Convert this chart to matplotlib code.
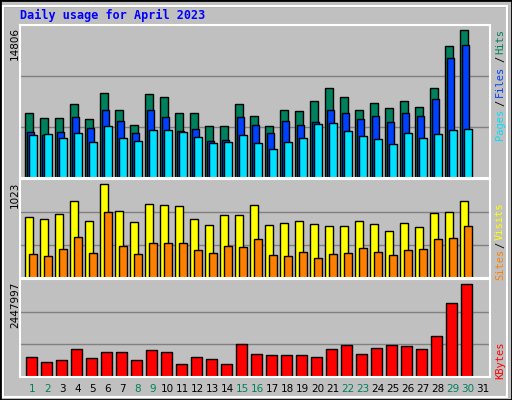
import matplotlib
matplotlib.use("Agg")
import matplotlib.pyplot as plt
from matplotlib.patches import Rectangle

days = list(range(1, 32))
hits = [6545, 6042, 6042, 7452, 5941, 8459, 6847, 5337, 8358, 8056, 6545, 6545, 5236, 5236, 7452,
        6243, 5236, 6847, 6747, 7754, 8962, 8056, 6847, 7553, 7049, 7754, 7150, 8962, 13192, 14806, 0]
files = [4632, 4330, 4632, 6143, 5035, 6848, 5740, 4532, 6848, 6143, 4733, 4934, 3726, 3827, 6143,
         5337, 4532, 5740, 5337, 5639, 6848, 6546, 5941, 6243, 5639, 6546, 6243, 7855, 11983, 13292, 0]
pages = [4330, 4431, 4028, 4532, 3625, 5236, 4028, 3726, 4834, 4834, 4632, 4129, 3524, 3625, 4330,
         3524, 2920, 3625, 4028, 5438, 5539, 4733, 4229, 3927, 3424, 4532, 4028, 4431, 4834, 4934, 0]
visits = [660, 638, 693, 836, 616, 1023, 726, 605, 803, 792, 781, 638, 572, 682, 682,
          792, 572, 594, 616, 583, 561, 561, 616, 583, 517, 594, 550, 704, 715, 836, 0]
sites = [264, 242, 319, 451, 275, 715, 352, 264, 385, 385, 385, 308, 275, 352, 341,
         429, 253, 242, 286, 220, 264, 275, 330, 286, 253, 308, 319, 429, 440, 561, 0]
kbytes = [532173, 399130, 452347, 745043, 505565, 665217, 665217, 452347, 718434, 665217, 345912,
          532173, 478956, 345912, 878086, 611999, 585390, 585390, 585390, 532173, 745043, 851477,
          611999, 771651, 851477, 824868, 745043, 1091038, 1942520, 2447997, 0]
weekend = [1, 2, 8, 9, 15, 16, 22, 23, 29, 30]

W, H = 512, 400
fig = plt.figure(figsize=(W / 100, H / 100), dpi=100)
fig.patch.set_facecolor("#c0c0c0")

def fx(x):
    return x / W

def fy(y):
    return 1 - y / H

# outer bevel
fig.add_artist(Rectangle((0, 0), 1, 1, transform=fig.transFigure, fill=False, ec="black", lw=2))
fig.add_artist(Rectangle((fx(3), fy(397)), fx(504), 391 / H, transform=fig.transFigure,
                         fill=False, ec="white", lw=1.5))
fig.add_artist(Rectangle((fx(3), fy(397)), fx(504), 391 / H, transform=fig.transFigure,
                         fill=False, ec="#808080", lw=1, zorder=0))

def panel(top, bottom, ymax):
    ax = fig.add_axes([fx(20), fy(bottom), fx(470), (bottom - top) / H])
    ax.set_facecolor("#c0c0c0")
    ax.set_xlim(-1 / 3, 31)
    ax.set_ylim(0, ymax)
    for v in (ymax / 3, 2 * ymax / 3):
        ax.axhline(v, color="#808080", lw=1, zorder=0)
    ax.set_xticks([])
    ax.set_yticks([])
    for s in ax.spines.values():
        s.set_color("white")
        s.set_linewidth(1.5)
    return ax

x0 = [d - 1 for d in days]
kw = dict(align="edge", edgecolor="black", linewidth=1)

ax1 = panel(25, 178, 14806 * 152 / 147)
ax1.bar([x + 0.0 for x in x0], hits, 0.5, color="#00805c", **kw)
ax1.bar([x + 0.13 for x in x0], files, 0.5, color="#0040ff", **kw)
ax1.bar([x + 0.27 for x in x0], pages, 0.5, color="#00e0ff", **kw)

ax2 = panel(179, 278, 1023 * 98 / 93)
ax2.bar([x + 0.0 for x in x0], visits, 0.55, color="#ffff00", **kw)
ax2.bar([x + 0.27 for x in x0], sites, 0.5, color="#ff8000", **kw)

ax3 = panel(279, 377, 2447997 * 97 / 92)
ax3.bar([x + 0.07 for x in x0], kbytes, 0.7, color="#ff0000", **kw)

mono = "DejaVu Sans Mono"
fig.text(fx(20), fy(15), "Daily usage for April 2023", color="#0000ff", family=mono,
         weight="bold", fontsize=8.5, va="center")

for top, lab in ((25, "14806"), (180, "1023"), (280, "2447997")):
    fig.text(fx(15), fy(top + 2), lab, rotation=90, ha="center", va="top", fontsize=7.5)

def side(y, s, c):
    fig.text(fx(500), fy(y), s, rotation=90, ha="center", va="center", color=c,
             family=mono, fontsize=7.5)

side(124, "Pages", "#00e0ff")
side(103, "/", "black")
side(81, "Files", "#0040ff")
side(59, "/", "black")
side(41, "Hits", "#00805c")
side(264, "Sites", "#ff8000")
side(245, "/", "black")
side(221, "Visits", "#ffff00")
side(360, "KBytes", "#ff0000")

for d in days:
    fig.text(fx(25 + 15 * (d - 1) + 7.5), fy(389), str(d), ha="center", va="center",
             fontsize=7.5, color="#00805c" if d in weekend else "black")

fig.savefig("out.png", dpi=100, facecolor=fig.get_facecolor())
